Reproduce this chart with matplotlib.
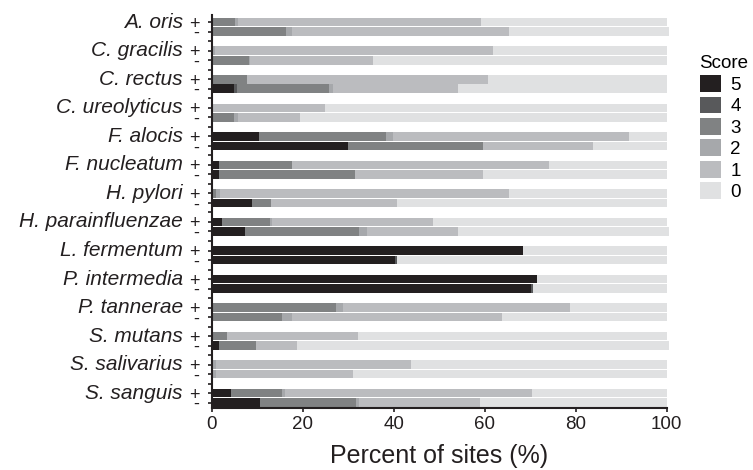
import matplotlib
matplotlib.use("Agg")
import matplotlib.pyplot as plt
from matplotlib.patches import Patch
from matplotlib.transforms import blended_transform_factory
import numpy as np

plt.rcParams['font.family'] = ['Liberation Sans', 'DejaVu Sans']

species = ["A. oris", "C. gracilis", "C. rectus", "C. ureolyticus", "F. alocis",
           "F. nucleatum", "H. pylori", "H. parainfluenzae", "L. fermentum",
           "P. intermedia", "P. tannerae", "S. mutans", "S. salivarius", "S. sanguis"]
scores = ["5", "4", "3", "2", "1", "0"]
colors = ["#231f20", "#58595b", "#808283", "#a6a8ab", "#bbbcbf", "#e0e1e2"]

# rows: for each species, "+" then "-"
score5 = [0, 0, 0, 0, 0, 4.8, 0, 0, 10.3, 29.8, 1.6, 1.6, 0, 8.9, 2.1, 7.3,
          68.4, 40.3, 71.5, 70.2, 0, 0, 0, 1.6, 0, 0, 4.2, 10.5]
score4 = [0, 0, 0, 0, 0, 0.8, 0, 0, 0, 0, 0, 0, 0, 0, 0, 0,
          0, 0.3, 0, 0.3, 0, 0, 0, 0, 0, 0, 0, 0]
score3 = [5.0, 16.2, 0, 8.1, 7.8, 20.2, 0, 4.9, 27.9, 29.8, 16.0, 29.8, 0.8, 4.0, 10.6, 25.0,
          0, 0, 0, 0, 27.2, 15.4, 3.4, 8.1, 0, 0, 11.1, 21.1]
score2 = [0.8, 1.5, 0.6, 0.3, 0, 0.9, 0, 0.8, 1.7, 0, 0, 0, 0.9, 0, 0.6, 1.7,
          0, 0, 0, 0, 1.7, 2.3, 0, 0, 0.9, 0.9, 0.7, 0.8]
score1 = [53.4, 47.6, 61.1, 27.1, 52.8, 27.3, 24.8, 13.6, 51.9, 24.2, 56.4, 28.2, 63.7, 27.7, 35.3, 20.1,
          0, 0, 0, 0, 49.8, 46.0, 28.8, 8.9, 42.8, 30.0, 54.3, 26.5]
score0 = [40.8, 35.2, 38.3, 64.5, 39.4, 46.0, 75.2, 80.7, 8.2, 16.2, 26.0, 40.4, 34.6, 59.4, 51.4, 46.4,
          31.6, 59.4, 28.5, 29.5, 21.3, 36.3, 67.8, 81.9, 56.3, 69.1, 29.7, 41.1]
series = [score5, score4, score3, score2, score1, score0]

fig = plt.figure(figsize=(7.53, 4.70), dpi=100)
ax = fig.add_axes([0.2815, 0.132, 0.604, 0.836])

pos = []
for i in range(len(species)):
    pos += [i * 3, i * 3 + 1]
pos = np.array(pos)

left = np.zeros(len(pos))
for vals, c in zip(series, colors):
    v = np.array(vals)
    ax.barh(pos, v, left=left, height=0.9, color=c, edgecolor='none', clip_on=False)
    left += v

ax.set_xlim(0, 100)
ax.set_ylim(40.55, -0.75)
ax.set_xticks([0, 20, 40, 60, 80, 100])
ax.tick_params(axis='x', labelsize=13.5, length=3, width=1.2, pad=3, colors='#231f20')
ticks = list(range(41))
labels = []
for t in ticks:
    r = t % 3
    labels.append("+" if r == 0 else ("-" if r == 1 else ""))
ax.set_yticks(ticks)
ax.set_yticklabels(labels, fontsize=13)
ax.tick_params(axis='y', length=3, width=1.2, pad=6, colors='#231f20')

trans = blended_transform_factory(ax.transAxes, ax.transData)
for i, s in enumerate(species):
    ax.text(-0.064, i * 3, s, transform=trans, ha='right', va='center',
            fontsize=15, style='italic', color='#231f20')

for sp in ['top', 'right']:
    ax.spines[sp].set_visible(False)
for sp in ['left', 'bottom']:
    ax.spines[sp].set_linewidth(1.5)
    ax.spines[sp].set_color('#231f20')

ax.set_xlabel("Percent of sites (%)", fontsize=18, color='#231f20', labelpad=8)

handles = [Patch(facecolor=c, edgecolor='none', label=s) for s, c in zip(scores, colors)]
leg = fig.legend(handles=handles, title="Score", loc='upper left',
                 bbox_to_anchor=(0.929, 0.882), frameon=False, fontsize=13.5,
                 title_fontsize=13.5, handlelength=1.15, handleheight=1.0,
                 labelspacing=0.14, handletextpad=0.5, borderpad=0, borderaxespad=0)
leg._legend_box.align = "left"

fig.savefig("out.png", dpi=100)
